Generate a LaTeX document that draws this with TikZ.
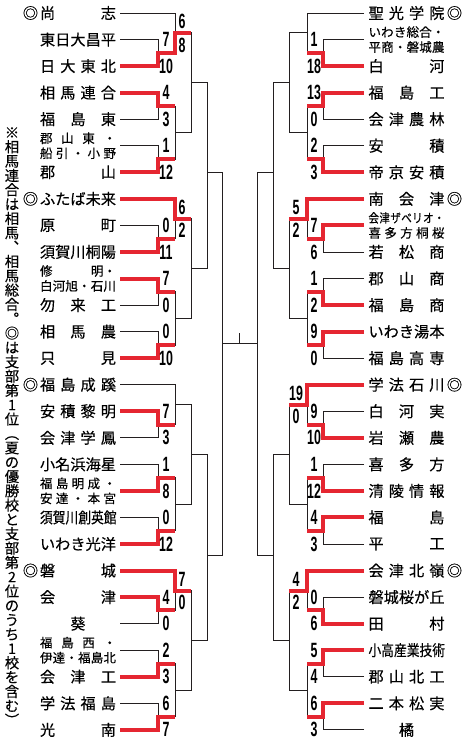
\documentclass[tikz,border=0pt]{standalone}
\usepackage{fontspec}
\usetikzlibrary{calc}
\newfontfamily\jpfont{Noto Sans CJK JP}[FakeBold=0.35]
\newfontfamily\jpnarrow{Noto Sans CJK JP}[FakeStretch=0.84,FakeBold=0.35]
\newfontfamily\scorefont{Liberation Sans}[FakeStretch=0.6]
\definecolor{Ink}{HTML}{231F20}
\definecolor{WinRed}{HTML}{E52631}
\newlength{\namew}
\setlength{\namew}{57pt}
\makeatletter
\def\spread@stop{\@nil}
\newcommand{\spreadname}[1]{\hbox to \namew{\spread@a#1\@nil}}
\def\spread@a#1{#1\spread@b}
\def\spread@b#1{\def\spread@tmp{#1}\ifx\spread@tmp\spread@stop\else\hfil#1\expandafter\spread@b\fi}
\newcommand{\tatebox}[1]{\hbox to 1em{\hss#1\hss}}
\newcommand{\tatecol}[1]{\tate@a#1\@nil}
\def\tate@a#1{\def\tate@tmp{#1}\ifx\tate@tmp\spread@stop\else\tatebox{#1}\expandafter\tate@a\fi}
\makeatother

\begin{document}
\begin{tikzpicture}[
  x=0.75pt, y=-0.75pt,
  bline/.style={draw=Ink,line width=0.6pt},
  wline/.style={draw=WinRed,line width=3pt,line join=miter},
  tname/.style={inner xsep=3pt,inner ysep=0pt,font=\jpfont\fontsize{11.4pt}{13pt}\selectfont},
  tsmall/.style={inner xsep=3pt,inner ysep=0pt,font=\jpfont\fontsize{9.4pt}{11.25pt}\selectfont},
  seed/.style={inner sep=0pt,font=\jpfont\fontsize{11.4pt}{13pt}\selectfont},
  sc/.style={inner sep=0pt,font=\scorefont\bfseries\fontsize{15.5pt}{16pt}\selectfont},
  note/.style={inner sep=0pt,anchor=north,font=\jpfont\fontsize{10.75pt}{10.75pt}\selectfont}
]
\useasboundingbox (0,0) rectangle (465,742);

% note down the left edge
\node[note] (memo) at (12,127) {\vbox{\lineskiplimit=-10pt
  \tatecol{※相馬連合は相馬︑相馬総合︒◎は支部第1位}\tatebox{\rotatebox[origin=c]{-90}{（}}%
  \tatecol{夏の優勝校と支部第2位のうち1校を含む}\tatebox{\rotatebox[origin=c]{-90}{）}}}};

% left block
\node[tname] (l0) at (78,13.0) {\spreadname{尚志}};
\node[seed] (l0s) at (30.5,13.0) {◎};
\node[tname] (l1) at (78,39.55) {\spreadname{東日大昌平}};
\node[tname] (l2) at (78,66.1) {\spreadname{日大東北}};
\node[tname] (l3) at (78,92.65) {\spreadname{相馬連合}};
\node[tname] (l4) at (78,119.2) {\spreadname{福島東}};
\node[tsmall] (l5) at (78,145.75) {\vbox{\spreadname{郡山東・}\spreadname{船引・小野}}};
\node[tname] (l6) at (78,172.3) {\spreadname{郡山}};
\node[tname] (l7) at (78,198.85) {\spreadname{ふたば未来}};
\node[seed] (l7s) at (30.5,198.85) {◎};
\node[tname] (l8) at (78,225.4) {\spreadname{原町}};
\node[tname] (l9) at (78,251.95) {\spreadname{須賀川桐陽}};
\node[tsmall] (l10) at (78,278.5) {\vbox{\spreadname{修{明・}}\spreadname{白河旭・石川}}};
\node[tname] (l11) at (78,305.05) {\spreadname{勿来工}};
\node[tname] (l12) at (78,331.6) {\spreadname{相馬農}};
\node[tname] (l13) at (78,358.15) {\spreadname{只見}};
\node[tname] (l14) at (78,384.7) {\spreadname{福島成蹊}};
\node[seed] (l14s) at (30.5,384.7) {◎};
\node[tname] (l15) at (78,411.25) {\spreadname{安積黎明}};
\node[tname] (l16) at (78,437.8) {\spreadname{会津学鳳}};
\node[tname] (l17) at (78,464.35) {\spreadname{小名浜海星}};
\node[tsmall] (l18) at (78,490.9) {\vbox{\spreadname{福島明成・}\spreadname{安達・本宮}}};
\node[tname] (l19) at (78,517.45) {\jpnarrow\spreadname{須賀川創英館}};
\node[tname] (l20) at (78,544.0) {\spreadname{いわき光洋}};
\node[tname] (l21) at (78,570.55) {\spreadname{磐城}};
\node[seed] (l21s) at (30.5,570.55) {◎};
\node[tname] (l22) at (78,597.1) {\spreadname{会津}};
\node[tname] (l23) at (78,623.65) {\spreadname{{\hfil 葵\hfil}}};
\node[tsmall] (l24) at (78,650.2) {\vbox{\spreadname{福島西・}\spreadname{伊達・福島北}}};
\node[tname] (l25) at (78,676.75) {\spreadname{会津工}};
\node[tname] (l26) at (78,703.3) {\spreadname{学法福島}};
\node[tname] (l27) at (78,729.85) {\spreadname{光南}};

% right block
\node[tname] (r0) at (406.5,13.0) {\spreadname{聖光学院}};
\node[seed] (r0s) at (454.5,13.0) {◎};
\node[tsmall] (r1) at (406.5,39.55) {\vbox{\spreadname{いわき総合・}\spreadname{平商・磐城農}}};
\node[tname] (r2) at (406.5,66.1) {\spreadname{白河}};
\node[tname] (r3) at (406.5,92.65) {\spreadname{福島工}};
\node[tname] (r4) at (406.5,119.2) {\spreadname{会津農林}};
\node[tname] (r5) at (406.5,145.75) {\spreadname{安積}};
\node[tname] (r6) at (406.5,172.3) {\spreadname{帝京安積}};
\node[tname] (r7) at (406.5,198.85) {\spreadname{南会津}};
\node[seed] (r7s) at (454.5,198.85) {◎};
\node[tsmall] (r8) at (406.5,225.4) {\vbox{\hbox{\jpnarrow\spreadname{会津ザベリオ・}}\spreadname{喜多方桐桜}}};
\node[tname] (r9) at (406.5,251.95) {\spreadname{若松商}};
\node[tname] (r10) at (406.5,278.5) {\spreadname{郡山商}};
\node[tname] (r11) at (406.5,305.05) {\spreadname{福島商}};
\node[tname] (r12) at (406.5,331.6) {\spreadname{いわき湯本}};
\node[tname] (r13) at (406.5,358.15) {\spreadname{福島高専}};
\node[tname] (r14) at (406.5,384.7) {\spreadname{学法石川}};
\node[seed] (r14s) at (454.5,384.7) {◎};
\node[tname] (r15) at (406.5,411.25) {\spreadname{白河実}};
\node[tname] (r16) at (406.5,437.8) {\spreadname{岩瀬農}};
\node[tname] (r17) at (406.5,464.35) {\spreadname{喜多方}};
\node[tname] (r18) at (406.5,490.9) {\spreadname{清陵情報}};
\node[tname] (r19) at (406.5,517.45) {\spreadname{福島}};
\node[tname] (r20) at (406.5,544.0) {\spreadname{平工}};
\node[tname] (r21) at (406.5,570.55) {\spreadname{会津北嶺}};
\node[seed] (r21s) at (454.5,570.55) {◎};
\node[tname] (r22) at (406.5,597.1) {\spreadname{磐城桜が丘}};
\node[tname] (r23) at (406.5,623.65) {\spreadname{田村}};
\node[tname] (r24) at (406.5,650.2) {\jpnarrow\spreadname{小高産業技術}};
\node[tname] (r25) at (406.5,676.75) {\spreadname{郡山北工}};
\node[tname] (r26) at (406.5,703.3) {\spreadname{二本松実}};
\node[tname] (r27) at (406.5,729.85) {\spreadname{{\hfil 橘\hfil}}};

% junctions, left
\coordinate (lm1) at (158,52.8);  \coordinate (lm2) at (158,105.9);
\coordinate (lm3) at (158,159.0); \coordinate (lm4) at (158,238.7);
\coordinate (lm5) at (158,291.8); \coordinate (lm6) at (158,344.9);
\coordinate (lm7) at (158,424.5); \coordinate (lm8) at (158,477.6);
\coordinate (lm9) at (158,530.7); \coordinate (lm10) at (158,610.4);
\coordinate (lm11) at (158,663.5); \coordinate (lm12) at (158,716.6);
\coordinate (ln1) at (175,32.9);  \coordinate (ln2) at (175,132.4);
\coordinate (ln3) at (175,218.8); \coordinate (ln4) at (175,318.4);
\coordinate (ln5) at (175,404.6); \coordinate (ln6) at (175,504.2);
\coordinate (ln7) at (175,590.5); \coordinate (ln8) at (175,690.1);
\coordinate (lp1) at (191,82.6);  \coordinate (lp2) at (191,268.6);
\coordinate (lp3) at (191,454.4); \coordinate (lp4) at (191,640.3);
\coordinate (lq1) at (207,172);   \coordinate (lq2) at (207,555);
\coordinate (lf) at (222,343);
% junctions, right
\coordinate (rm1) at (323,52.8);  \coordinate (rm2) at (323,105.9);
\coordinate (rm3) at (323,159.0); \coordinate (rm4) at (323,238.7);
\coordinate (rm5) at (323,291.8); \coordinate (rm6) at (323,344.9);
\coordinate (rm7) at (323,424.5); \coordinate (rm8) at (323,477.6);
\coordinate (rm9) at (323,530.7); \coordinate (rm10) at (323,610.4);
\coordinate (rm11) at (323,663.5); \coordinate (rm12) at (323,716.6);
\coordinate (rn1) at (307,32.9);  \coordinate (rn2) at (307,132.4);
\coordinate (rn3) at (307,218.8); \coordinate (rn4) at (307,318.4);
\coordinate (rn5) at (307,404.6); \coordinate (rn6) at (307,504.2);
\coordinate (rn7) at (307,590.5); \coordinate (rn8) at (307,690.1);
\coordinate (rp1) at (289,82.6);  \coordinate (rp2) at (289,268.6);
\coordinate (rp3) at (289,454.4); \coordinate (rp4) at (289,640.3);
\coordinate (rq1) at (273,172);   \coordinate (rq2) at (273,555);
\coordinate (rf) at (257,343);
\coordinate (fin) at ($(lf)!0.5!(rf)$);

% bracket lines
\draw[bline] (l1.east) -| (lm1) (l2.east) -| (lm1) (l3.east) -| (lm2) (l4.east) -| (lm2)
  (l5.east) -| (lm3) (l6.east) -| (lm3) (l8.east) -| (lm4) (l9.east) -| (lm4)
  (l10.east) -| (lm5) (l11.east) -| (lm5) (l12.east) -| (lm6) (l13.east) -| (lm6)
  (l15.east) -| (lm7) (l16.east) -| (lm7) (l17.east) -| (lm8) (l18.east) -| (lm8)
  (l19.east) -| (lm9) (l20.east) -| (lm9) (l22.east) -| (lm10) (l23.east) -| (lm10)
  (l24.east) -| (lm11) (l25.east) -| (lm11) (l26.east) -| (lm12) (l27.east) -| (lm12);
\draw[bline] (l0.east) -| (ln1) (lm1) -| (ln1) (lm2) -| (ln2) (lm3) -| (ln2)
  (l7.east) -| (ln3) (lm4) -| (ln3) (lm5) -| (ln4) (lm6) -| (ln4)
  (l14.east) -| (ln5) (lm7) -| (ln5) (lm8) -| (ln6) (lm9) -| (ln6)
  (l21.east) -| (ln7) (lm10) -| (ln7) (lm11) -| (ln8) (lm12) -| (ln8);
\draw[bline] (ln1) -| (lp1) (ln2) -| (lp1) (ln3) -| (lp2) (ln4) -| (lp2)
  (ln5) -| (lp3) (ln6) -| (lp3) (ln7) -| (lp4) (ln8) -| (lp4)
  (lp1) -| (lq1) (lp2) -| (lq1) (lp3) -| (lq2) (lp4) -| (lq2)
  (lq1) -| (lf) (lq2) -| (lf);
\draw[bline] (r1.west) -| (rm1) (r2.west) -| (rm1) (r3.west) -| (rm2) (r4.west) -| (rm2)
  (r5.west) -| (rm3) (r6.west) -| (rm3) (r8.west) -| (rm4) (r9.west) -| (rm4)
  (r10.west) -| (rm5) (r11.west) -| (rm5) (r12.west) -| (rm6) (r13.west) -| (rm6)
  (r15.west) -| (rm7) (r16.west) -| (rm7) (r17.west) -| (rm8) (r18.west) -| (rm8)
  (r19.west) -| (rm9) (r20.west) -| (rm9) (r22.west) -| (rm10) (r23.west) -| (rm10)
  (r24.west) -| (rm11) (r25.west) -| (rm11) (r26.west) -| (rm12) (r27.west) -| (rm12);
\draw[bline] (r0.west) -| (rn1) (rm1) -| (rn1) (rm2) -| (rn2) (rm3) -| (rn2)
  (r7.west) -| (rn3) (rm4) -| (rn3) (rm5) -| (rn4) (rm6) -| (rn4)
  (r14.west) -| (rn5) (rm7) -| (rn5) (rm8) -| (rn6) (rm9) -| (rn6)
  (r21.west) -| (rn7) (rm10) -| (rn7) (rm11) -| (rn8) (rm12) -| (rn8);
\draw[bline] (rn1) -| (rp1) (rn2) -| (rp1) (rn3) -| (rp2) (rn4) -| (rp2)
  (rn5) -| (rp3) (rn6) -| (rp3) (rn7) -| (rp4) (rn8) -| (rp4)
  (rp1) -| (rq1) (rp2) -| (rq1) (rp3) -| (rq2) (rp4) -| (rq2)
  (rq1) -| (rf) (rq2) -| (rf);
\draw[bline] (lf) -- (rf) (fin) -- ++(0,-10);

% winners
\draw[wline] (l2.east) -| (lm1) -| (ln1) -- (ln1 -| lp1);
\draw[wline] (l3.east) -| (lm2) -- (lm2 -| ln2);
\draw[wline] (l6.east) -| (lm3) -- (lm3 -| ln2);
\draw[wline] (l9.east) -| (lm4) -- (lm4 -| ln3);
\draw[wline] (l7.east) -| (ln3) -- (ln3 -| lp2);
\draw[wline] (l10.east) -| (lm5) -- (lm5 -| ln4);
\draw[wline] (l13.east) -| (lm6) -- (lm6 -| ln4);
\draw[wline] (l15.east) -| (lm7) -- (lm7 -| ln5);
\draw[wline] (l18.east) -| (lm8) -- (lm8 -| ln6);
\draw[wline] (l20.east) -| (lm9) -- (lm9 -| ln6);
\draw[wline] (l22.east) -| (lm10) -- (lm10 -| ln7);
\draw[wline] (l21.east) -| (ln7) -- (ln7 -| lp4);
\draw[wline] (l25.east) -| (lm11) -- (lm11 -| ln8);
\draw[wline] (l27.east) -| (lm12) -- (lm12 -| ln8);
\draw[wline] (r2.west) -| (rm1) -- (rm1 -| rn1);
\draw[wline] (r3.west) -| (rm2) -- (rm2 -| rn2);
\draw[wline] (r6.west) -| (rm3) -- (rm3 -| rn2);
\draw[wline] (r8.west) -| (rm4) -- (rm4 -| rn3);
\draw[wline] (r7.west) -| (rn3) -- (rn3 -| rp2);
\draw[wline] (r11.west) -| (rm5) -- (rm5 -| rn4);
\draw[wline] (r12.west) -| (rm6) -- (rm6 -| rn4);
\draw[wline] (r16.west) -| (rm7) -- (rm7 -| rn5);
\draw[wline] (r14.west) -| (rn5) -- (rn5 -| rp3);
\draw[wline] (r18.west) -| (rm8) -- (rm8 -| rn6);
\draw[wline] (r19.west) -| (rm9) -- (rm9 -| rn6);
\draw[wline] (r23.west) -| (rm10) -- (rm10 -| rn7);
\draw[wline] (r21.west) -| (rn7) -- (rn7 -| rp4);
\draw[wline] (r24.west) -| (rm11) -- (rm11 -| rn8);
\draw[wline] (r26.west) -| (rm12) -- (rm12 -| rn8);

% scores, left
\node[sc] (sl1) at (166,39.55) {7};   \node[sc] (sl2) at (166,66.1) {10};
\node[sc] (sl3) at (166,92.65) {4};   \node[sc] (sl4) at (166,119.2) {3};
\node[sc] (sl5) at (166,145.75) {1};  \node[sc] (sl6) at (166,172.3) {12};
\node[sc] (sl8) at (166,225.4) {0};   \node[sc] (sl9) at (166,251.95) {11};
\node[sc] (sl10) at (166,278.5) {7};  \node[sc] (sl11) at (166,305.05) {0};
\node[sc] (sl12) at (166,331.6) {0};  \node[sc] (sl13) at (166,358.15) {10};
\node[sc] (sl15) at (166,411.25) {7}; \node[sc] (sl16) at (166,437.8) {3};
\node[sc] (sl17) at (166,464.35) {1}; \node[sc] (sl18) at (166,490.9) {8};
\node[sc] (sl19) at (166,517.45) {0}; \node[sc] (sl20) at (166,544.0) {12};
\node[sc] (sl22) at (166,597.1) {4};  \node[sc] (sl23) at (166,623.65) {0};
\node[sc] (sl24) at (166,650.2) {2};  \node[sc] (sl25) at (166,676.75) {3};
\node[sc] (sl26) at (166,703.3) {6};  \node[sc] (sl27) at (166,729.85) {7};
\node[sc,anchor=south] (sln1a) at ($(ln1)+(7,-4)$) {6};
\node[sc,anchor=north] (sln1b) at ($(ln1)+(7,4.5)$) {8};
\node[sc,anchor=south] (sln3a) at ($(ln3)+(7,-4)$) {6};
\node[sc,anchor=north] (sln3b) at ($(ln3)+(7,4.5)$) {2};
\node[sc,anchor=south] (sln7a) at ($(ln7)+(7,-4)$) {7};
\node[sc,anchor=north] (sln7b) at ($(ln7)+(7,4.5)$) {0};

% scores, right
\node[sc] (sr1) at (314,39.55) {1};   \node[sc] (sr2) at (314,66.1) {18};
\node[sc] (sr3) at (314,92.65) {13};  \node[sc] (sr4) at (314,119.2) {0};
\node[sc] (sr5) at (314,145.75) {2};  \node[sc] (sr6) at (314,172.3) {3};
\node[sc] (sr8) at (314,225.4) {7};   \node[sc] (sr9) at (314,251.95) {6};
\node[sc] (sr10) at (314,278.5) {1};  \node[sc] (sr11) at (314,305.05) {2};
\node[sc] (sr12) at (314,331.6) {9};  \node[sc] (sr13) at (314,358.15) {0};
\node[sc] (sr15) at (314,411.25) {9}; \node[sc] (sr16) at (314,437.8) {10};
\node[sc] (sr17) at (314,464.35) {1}; \node[sc] (sr18) at (314,490.9) {12};
\node[sc] (sr19) at (314,517.45) {4}; \node[sc] (sr20) at (314,544.0) {3};
\node[sc] (sr22) at (314,597.1) {0};  \node[sc] (sr23) at (314,623.65) {6};
\node[sc] (sr24) at (314,650.2) {5};  \node[sc] (sr25) at (314,676.75) {4};
\node[sc] (sr26) at (314,703.3) {6};  \node[sc] (sr27) at (314,729.85) {3};
\node[sc,anchor=south] (srn3a) at ($(rn3)+(-11,-4)$) {5};
\node[sc,anchor=north] (srn3b) at ($(rn3)+(-11,4.5)$) {2};
\node[sc,anchor=south] (srn5a) at ($(rn5)+(-11,-4)$) {19};
\node[sc,anchor=north] (srn5b) at ($(rn5)+(-11,4.5)$) {0};
\node[sc,anchor=south] (srn7a) at ($(rn7)+(-11,-4)$) {4};
\node[sc,anchor=north] (srn7b) at ($(rn7)+(-11,4.5)$) {2};
\end{tikzpicture}
\end{document}
